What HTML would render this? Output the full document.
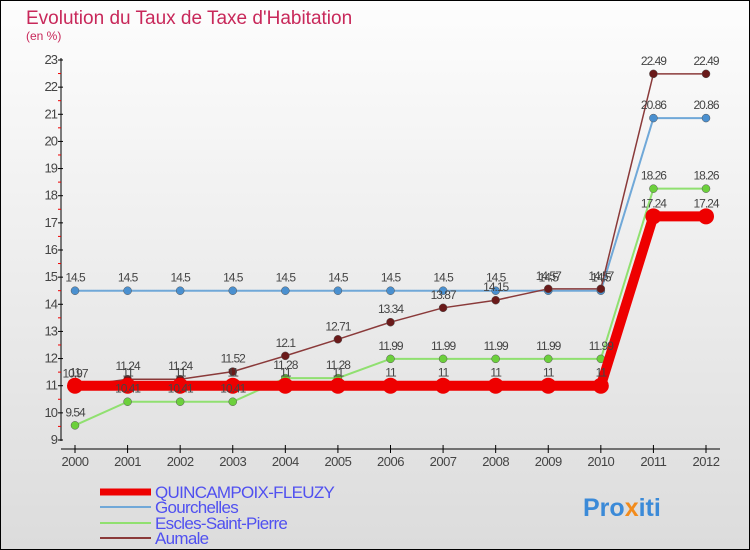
<!DOCTYPE html>
<html><head><meta charset="utf-8"><style>
body{margin:0}
#c{width:750px;height:550px;position:relative;overflow:hidden;font-family:"Liberation Sans",sans-serif}
</style></head><body>
<div id="c">
<svg id="s" width="750" height="550" xmlns="http://www.w3.org/2000/svg">
<defs><linearGradient id="bg" x1="0" y1="0" x2="0" y2="1"><stop offset="0" stop-color="#fdfdfd"/><stop offset="1" stop-color="#dcdcdc"/></linearGradient></defs>
<rect x="0.5" y="0.5" width="749" height="549" fill="url(#bg)" stroke="#000"/>
<text x="26" y="24" font-size="19" fill="#c8285a">Evolution du Taux de Taxe d'Habitation</text>
<text x="26" y="40" font-size="12" fill="#c8285a">(en %)</text>
<g id="axes"></g><g id="series"></g><g id="legend"></g>
<text x="583" y="516" font-size="25" font-weight="bold" fill="#3b8ad8">Pro<tspan fill="#f28b1c">x</tspan>iti</text>
</svg></div>
<script>
const years=[2000,2001,2002,2003,2004,2005,2006,2007,2008,2009,2010,2011,2012];
const yTicks=[9,10,11,12,13,14,15,16,17,18,19,20,21,22,23];
const quincampoix=[11,11,11,11,11,11,11,11,11,11,11,17.24,17.24];
const gourchelles=[14.5,14.5,14.5,14.5,14.5,14.5,14.5,14.5,14.5,14.5,14.5,20.86,20.86];
const escles=[9.54,10.41,10.41,10.41,11.28,11.28,11.99,11.99,11.99,11.99,11.99,18.26,18.26];
const aumale=[10.97,11.24,11.24,11.52,12.1,12.71,13.34,13.87,14.15,14.57,14.57,22.49,22.49];
const NS="http://www.w3.org/2000/svg";
const xs=i=>75+i*(706-75)/12;
const ys=v=>440-(v-9)*(380/14);
function mk(tag,attrs,parent,txt){const e=document.createElementNS(NS,tag);for(const k in attrs)e.setAttribute(k,attrs[k]);if(txt!==undefined)e.textContent=txt;parent.appendChild(e);return e;}
const ax=document.getElementById('axes');
let yl=mk('line',{x1:61,y1:58,x2:61,y2:441,stroke:'#000'},ax);


let xl=mk('line',{x1:61,y1:449,x2:720,y2:449,stroke:'#000'},ax);


yTicks.forEach(t=>{const y=ys(t);
 mk('line',{x1:58,y1:y,x2:63,y2:y,stroke:'#000'},ax);
 if(t<23)mk('line',{x1:58,y1:y-13.6,x2:61,y2:y-13.6,stroke:'#e00'},ax);
 const tl=mk('text',{x:57,y:y+4,'font-size':13,'text-anchor':'end',fill:'#444','letter-spacing':'-1'},ax,t);
 
 
});
years.forEach((yr,i)=>{const x=xs(i);
 mk('line',{x1:x,y1:445,x2:x,y2:453,stroke:'#000'},ax);
 const tl=mk('text',{x:x,y:466,'font-size':13,'text-anchor':'middle',fill:'#444','letter-spacing':'-0.5'},ax,yr);
 
 
});
const sg=document.getElementById('series');
const series=[
 {name:'escles',data:escles,c:'#90e070',pc:'#6cd03c',w:2,r:4},
 {name:'gourchelles',data:gourchelles,c:'#70a8d8',pc:'#4a90d0',w:2,r:4},
 {name:'aumale',data:aumale,c:'#8a3a3a',pc:'#6a1a1a',w:1.5,r:4},
 {name:'quincampoix',data:quincampoix,c:'#ee0000',pc:'#ee0000',w:10,r:8}];
series.forEach(s=>{
 const pts=s.data.map((v,i)=>xs(i)+','+ys(v)).join(' ');
 const pl=mk('polyline',{points:pts,fill:'none',stroke:s.c,'stroke-width':s.w},sg);
 
 
 s.data.forEach((v,i)=>{
  const c=mk('circle',{cx:xs(i),cy:ys(v),r:s.r,fill:s.pc,stroke:s.name==='quincampoix'?'none':'#555','stroke-width':0.5},sg);
  
  
 });
});
series.forEach(s=>{s.data.forEach((v,i)=>{
 const t=mk('text',{x:xs(i),y:ys(v)-9,'font-size':12,'text-anchor':'middle',fill:'#444','letter-spacing':'-1'},sg,v);
 
 
});});
const lg=document.getElementById('legend');
const leg=[['QUINCAMPOIX-FLEUZY','#ee0000',7,498],['Gourchelles','#70a8d8',2,513],['Escles-Saint-Pierre','#90e070',2,529],['Aumale','#8a3a3a',2,544]];
leg.forEach(l=>{
 const ln=mk('line',{x1:100,y1:l[3]-6,x2:151,y2:l[3]-6,stroke:l[1],'stroke-width':l[2]},lg);
 
 
 const t=mk('text',{x:155,y:l[3],'font-size':17,fill:'#5050f0','letter-spacing':'-0.7'},lg,l[0]);
 
 
});
</script>
</body></html>
